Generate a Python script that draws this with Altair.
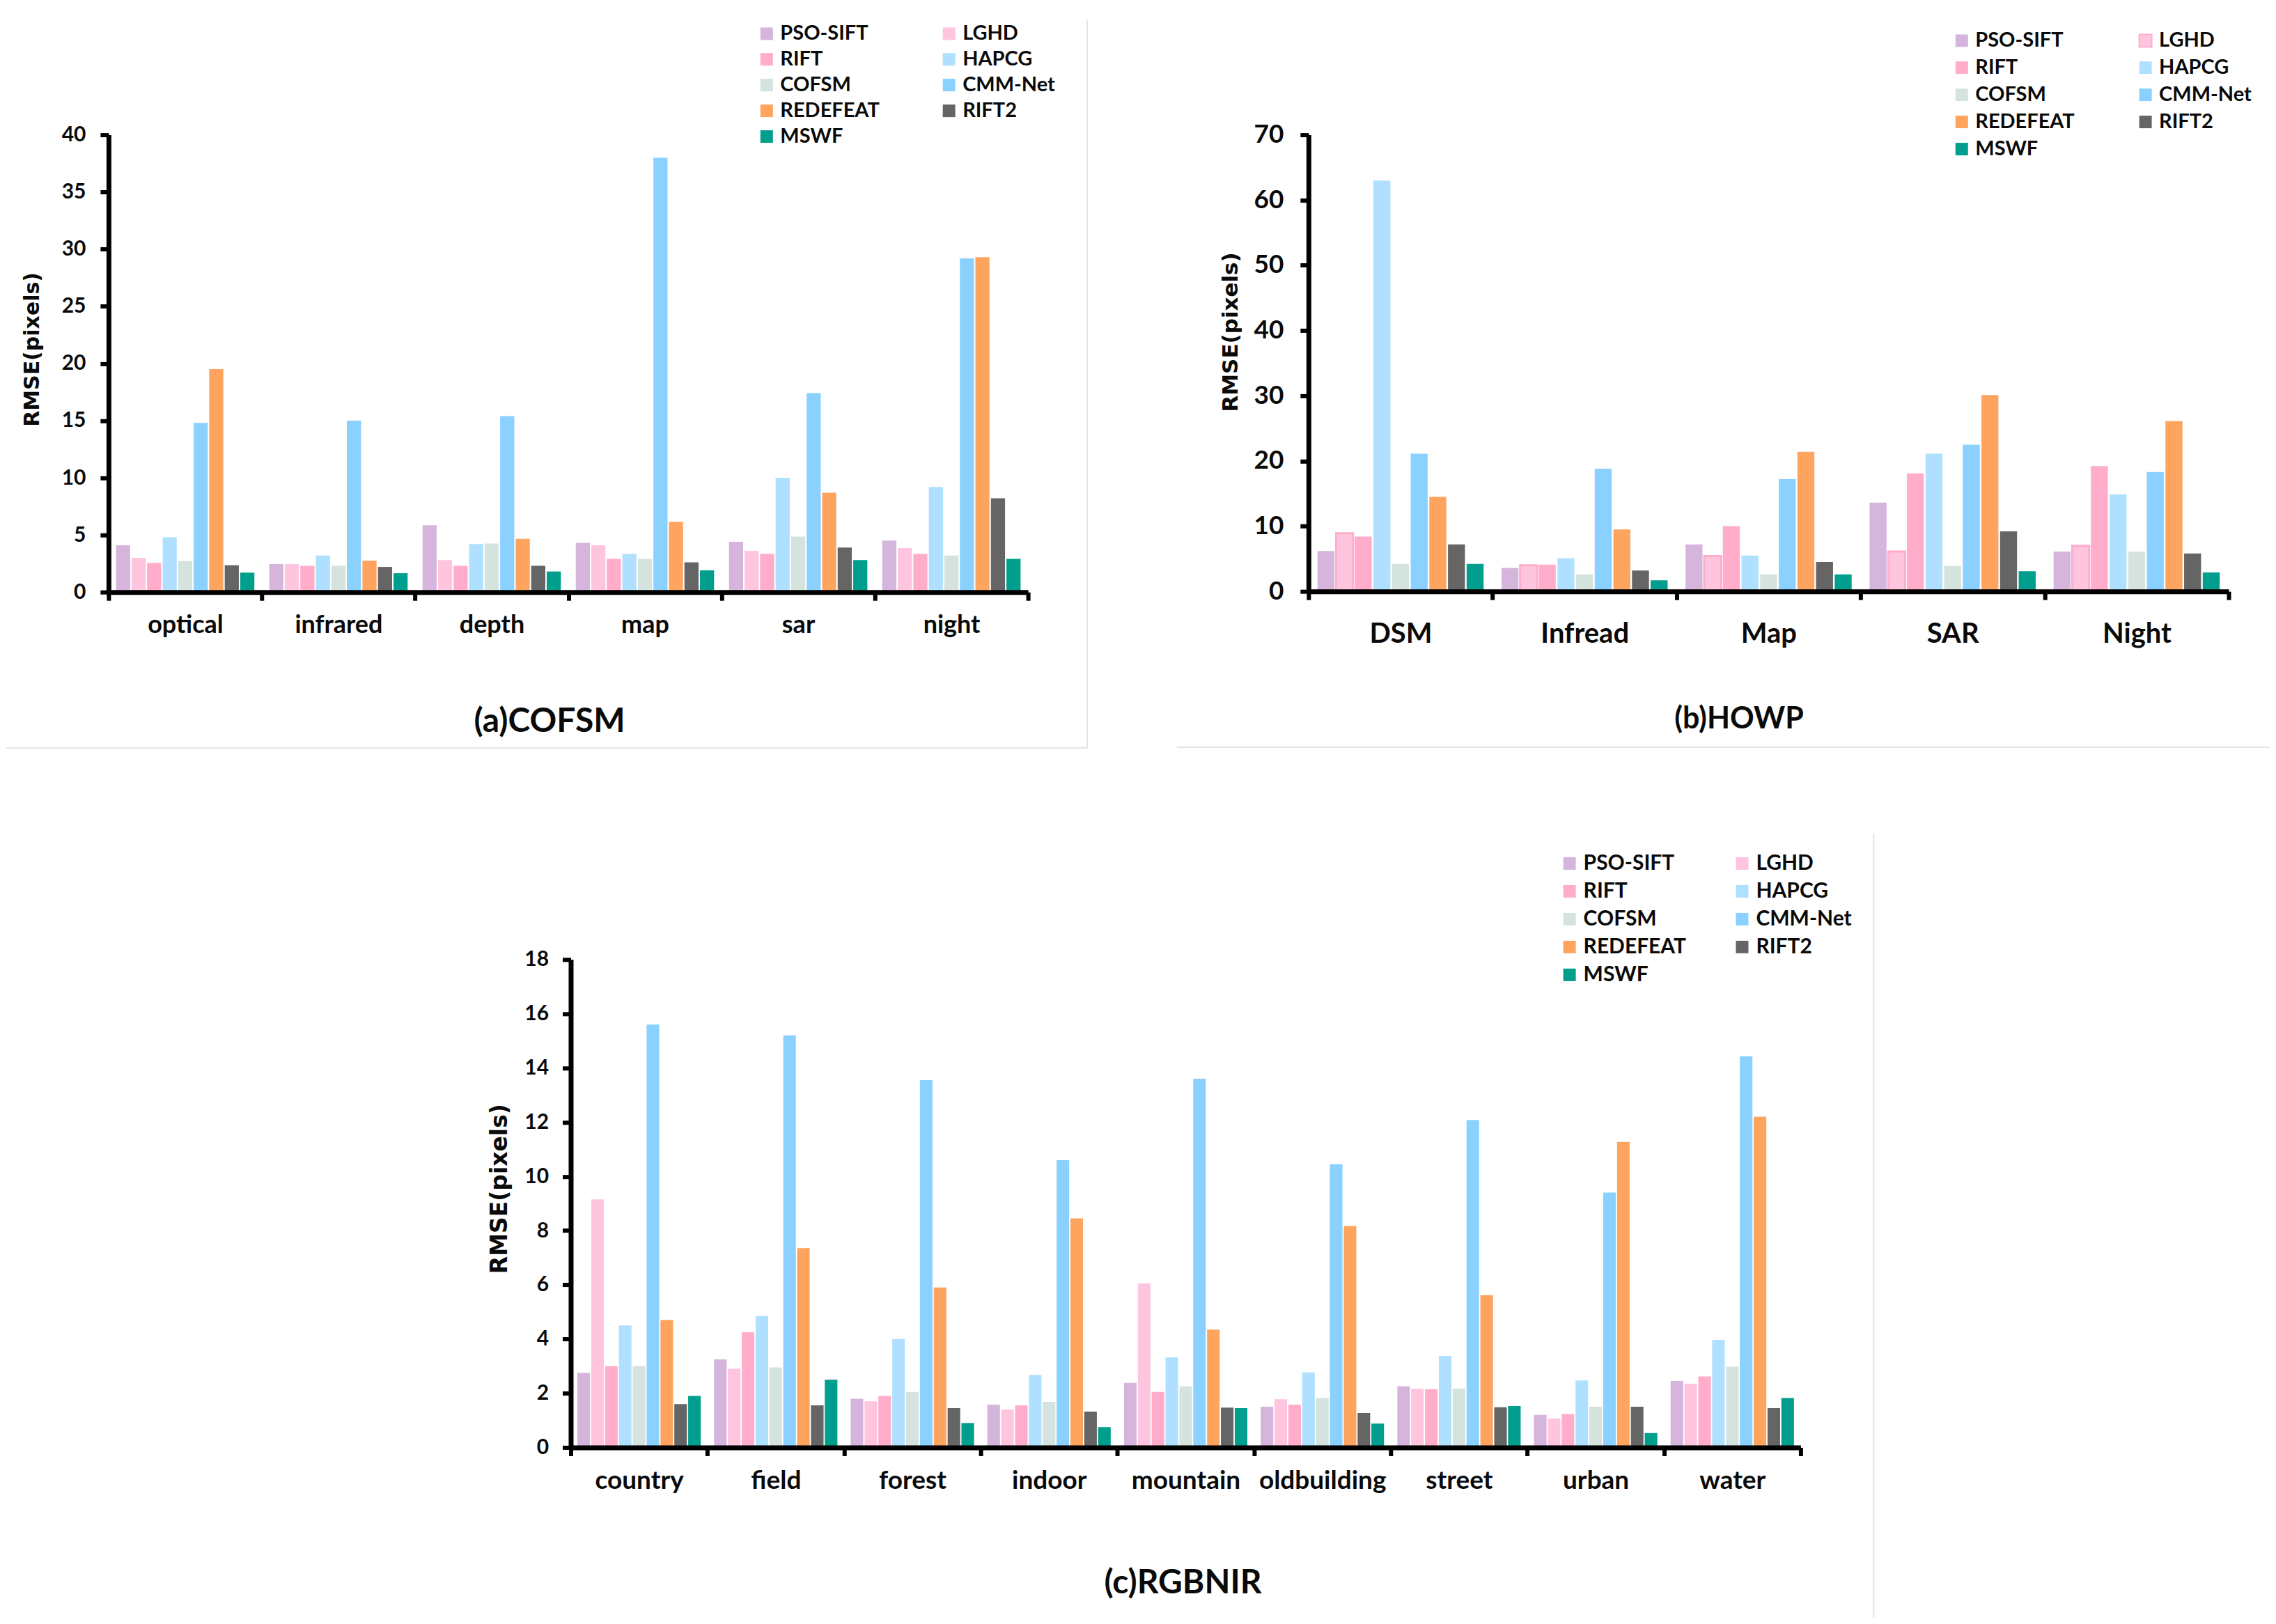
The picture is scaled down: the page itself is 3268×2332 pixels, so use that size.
import altair as alt
import pandas as pd

methods = ["PSO-SIFT", "LGHD", "RIFT", "HAPCG", "COFSM", "CMM-Net", "REDEFEAT", "RIFT2", "MSWF"]
fills = ["#D5B5DC", "#FFC5DF", "#FFADCB", "#B0E0FF", "#D5E3DE", "#8BD1FF", "#FFA45F", "#656565", "#009E8C"]

a_cats = ["optical", "infrared", "depth", "map", "sar", "night"]
a_vals = [
    [4.1, 3.0, 2.55, 4.8, 2.7, 14.8, 19.5, 2.35, 1.7],
    [2.45, 2.45, 2.3, 3.2, 2.3, 15.0, 2.75, 2.2, 1.65],
    [5.85, 2.8, 2.3, 4.2, 4.25, 15.4, 4.65, 2.3, 1.8],
    [4.3, 4.1, 2.9, 3.35, 2.9, 38.0, 6.15, 2.6, 1.9],
    [4.4, 3.6, 3.35, 10.0, 4.85, 17.4, 8.7, 3.9, 2.8],
    [4.5, 3.85, 3.35, 9.2, 3.2, 29.2, 29.3, 8.2, 2.9],
]
b_cats = ["DSM", "Infread", "Map", "SAR", "Night"]
b_vals = [
    [6.2, 8.9, 8.4, 63.0, 4.2, 21.1, 14.5, 7.2, 4.2],
    [3.6, 4.0, 4.1, 5.1, 2.6, 18.8, 9.5, 3.2, 1.7],
    [7.2, 5.4, 10.0, 5.5, 2.6, 17.2, 21.4, 4.5, 2.6],
    [13.6, 6.1, 18.1, 21.1, 3.9, 22.5, 30.1, 9.2, 3.1],
    [6.1, 7.0, 19.2, 14.9, 6.1, 18.3, 26.1, 5.8, 2.9],
]
c_cats = ["country", "field", "forest", "indoor", "mountain", "oldbuilding", "street", "urban", "water"]
c_vals = [
    [2.75, 9.15, 3.0, 4.5, 3.0, 15.6, 4.7, 1.6, 1.9],
    [3.25, 2.9, 4.25, 4.85, 2.95, 15.2, 7.35, 1.55, 2.5],
    [1.8, 1.7, 1.9, 4.0, 2.05, 13.55, 5.9, 1.45, 0.9],
    [1.58, 1.4, 1.55, 2.68, 1.68, 10.6, 8.45, 1.32, 0.75],
    [2.38, 6.05, 2.05, 3.32, 2.25, 13.6, 4.35, 1.47, 1.45],
    [1.5, 1.78, 1.58, 2.77, 1.82, 10.45, 8.17, 1.27, 0.88],
    [2.25, 2.17, 2.15, 3.38, 2.17, 12.08, 5.62, 1.48, 1.53],
    [1.2, 1.07, 1.23, 2.47, 1.5, 9.4, 11.27, 1.5, 0.53],
    [2.45, 2.35, 2.62, 3.97, 2.98, 14.43, 12.2, 1.45, 1.82],
]

FONT = "Lato"
INK = "#0A0A0A"
FRAME = "#E4E4E4"


def frame_line(x1, x2, y1, y2):
    return (
        alt.Chart(pd.DataFrame({"k": [0]}))
        .mark_rule(color=FRAME, strokeWidth=2)
        .encode(x=alt.value(x1), x2=alt.value(x2), y=alt.value(y1), y2=alt.value(y2))
    )


def panel(cats, vals, ymax, ystep, w, h, title, title_x, title_y, ytitle_x, ytitle_y, ytitle_size,
          tick_size, tick_pad, xlabel_size, xlabel_pad, title_size, leg_x, leg_y, leg_size, leg_pad, leg_rowpad,
          frames, lghd_stroke=None):
    rows = [{"cat": c, "method": m, "value": v} for c, r in zip(cats, vals) for m, v in zip(methods, r)]
    df = pd.DataFrame(rows)
    strokes = ["transparent"] * len(methods)
    if lghd_stroke:
        strokes[1] = lghd_stroke
    x = alt.X("cat:N", sort=cats,
              scale=alt.Scale(paddingInner=0, paddingOuter=0),
              axis=alt.Axis(title=title, titleX=title_x, titleY=title_y, titleFont=FONT, titleFontSize=title_size,
                            titleFontWeight="bold", titleColor=INK, zindex=1,
                            labelAngle=0, labelFont=FONT, labelFontSize=xlabel_size, labelFontWeight="bold",
                            labelColor=INK, labelPadding=xlabel_pad, labelLimit=400,
                            tickBand="extent", tickColor="black", tickWidth=6, tickSize=12,
                            domainColor="black", domainWidth=7, grid=False))
    y = alt.Y("value:Q",
              scale=alt.Scale(domain=[0, ymax], nice=False),
              axis=alt.Axis(title="RMSE(pixels)", titleX=ytitle_x, titleY=ytitle_y, titleFont="DejaVu Sans",
                            titleFontSize=ytitle_size, titleFontWeight="bold", titleColor=INK, zindex=1,
                            values=list(range(0, ymax + 1, ystep)), labelFont=FONT, labelFontSize=tick_size,
                            labelFontWeight="bold", labelColor=INK, labelPadding=tick_pad,
                            tickColor="black", tickWidth=6, tickSize=12,
                            domainColor="black", domainWidth=7, grid=False))
    legend = alt.Legend(title=None, orient="none", legendX=leg_x, legendY=leg_y, columns=2, direction="horizontal",
                        labelFont=FONT, labelFontSize=leg_size, labelFontWeight="bold", labelColor=INK,
                        symbolType="square", symbolSize=324, symbolStrokeWidth=2, labelOffset=5,
                        columnPadding=leg_pad, rowPadding=leg_rowpad, labelLimit=300)
    bars = (
        alt.Chart(df)
        .mark_bar(strokeWidth=3)
        .encode(
            x=x,
            xOffset=alt.XOffset("method:N", sort=methods,
                                scale=alt.Scale(domain=methods, paddingInner=0.09, paddingOuter=0.48)),
            y=y,
            color=alt.Color("method:N", sort=methods, scale=alt.Scale(domain=methods, range=fills), legend=legend),
            stroke=alt.Stroke("method:N", sort=methods, scale=alt.Scale(domain=methods, range=strokes), legend=legend),
        )
    )
    return alt.layer(bars, *[frame_line(*f) for f in frames]).properties(width=w, height=h)


a = panel(a_cats, a_vals, 40, 5, 1321, 657, "(a)COFSM", 633, 162, -94, 308, 30,
          30, 21, 36, 18, 48, 931, -160, 29, 85, 7,
          [(-147, 1406, 881, 881), (1406, 1406, -165, 881)])
b = panel(b_cats, b_vals, 70, 10, 1322, 656, "(b)HOWP", 618, 162, -95, 283, 31,
          37, 24, 40, 29, 43, 924, -150, 29, 87, 9,
          [(-189, 1381, 880, 880)], lghd_stroke="#FFADCB")
c = panel(c_cats, c_vals, 18, 2, 1767, 701, "(c)RGBNIR", 879, 171, -85, 329, 33,
          30, 20, 37, 18, 48, 1420, -153, 30, 65, 10,
          [(1872, 1872, -180, 946)])

spacer = (
    alt.Chart(pd.DataFrame({"t": [""]}))
    .mark_text()
    .encode(text="t:N")
    .properties(width=564, height=10)
)

INDEP = dict(color="independent", stroke="independent", xOffset="independent")

top = alt.hconcat(a, b, spacing=403, bounds="flush").resolve_scale(**INDEP)
bottom = alt.hconcat(spacer, c, spacing=100, bounds="flush").resolve_scale(**INDEP)

chart = (
    alt.vconcat(top, bottom, spacing=122)
    .resolve_scale(**INDEP)
    .configure_view(stroke=None)
    .properties(background="white", padding={"left": 0, "right": 0, "top": 19, "bottom": 0})
)
chart.save("out.html", embed_options={"renderer": "svg", "actions": False})
